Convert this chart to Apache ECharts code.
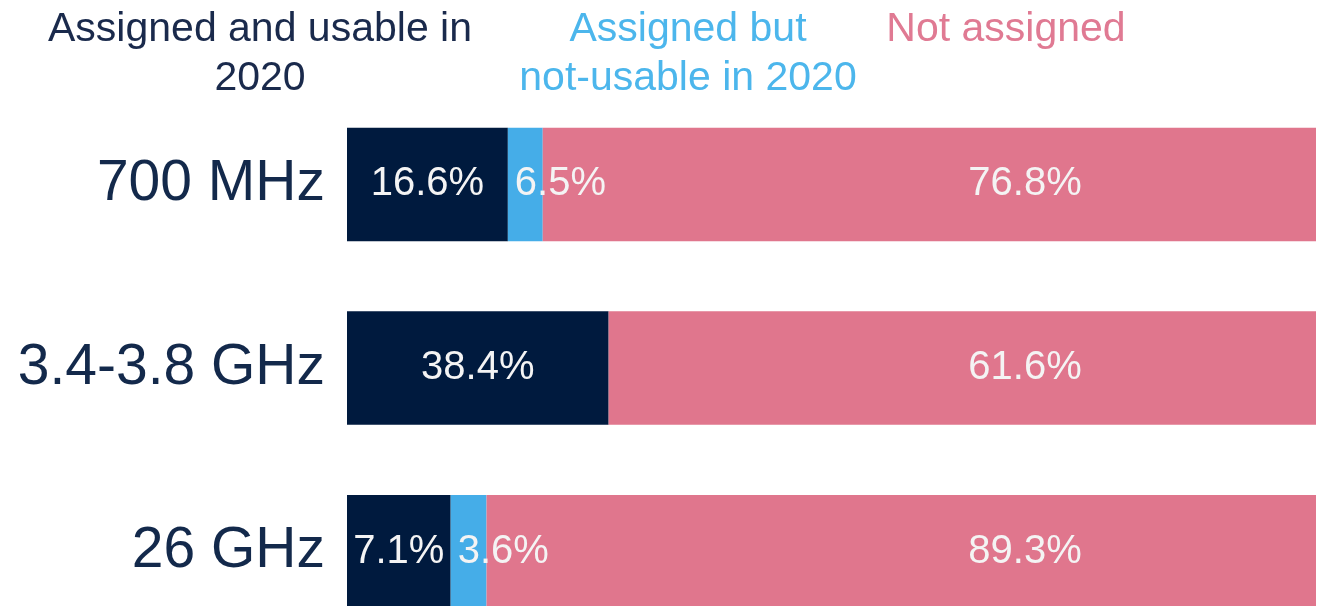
<!DOCTYPE html>
<html>
<head>
<meta charset="utf-8">
<script src="https://cdn.jsdelivr.net/npm/echarts@6/dist/echarts.min.js"></script>
<style>
html,body{margin:0;padding:0;background:#fff;}
#chart{width:1317px;height:606px;}
</style>
</head>
<body>
<div id="chart"></div>
<script>
// Categories (top to bottom)
const categories = ['700 MHz', '3.4-3.8 GHz', '26 GHz'];
// Bar lengths as drawn in the picture (% of the full bar)
const usableValues = [16.6, 27.0, 10.7];
const notUsableValues = [3.6, 0, 3.7];
const notAssignedValues = [79.8, 73.0, 85.6];
// Label texts printed on the bars
const usableLabels = ['16.6%', '38.4%', '7.1%'];
const notUsableLabels = ['6.5%', '', '3.6%'];
const notAssignedLabels = ['76.8%', '61.6%', '89.3%'];
// Legend texts
const seriesNames = ['Assigned and usable in\n2020', 'Assigned but\nnot-usable in 2020', 'Not assigned'];

const NAVY = '#001a3e';
const BLUE = '#45ade8';
const PINK = '#e0768d';
const FONT = '"Liberation Sans", Arial, sans-serif';

const chart = echarts.init(document.getElementById('chart'), null, {renderer: 'canvas'});

const labelBase = {
  show: true,
  color: '#f4f4f4',
  fontFamily: FONT,
  fontSize: 40
};

const option = {
  animation: false,
  backgroundColor: '#ffffff',
  grid: {left: 347, right: 1, top: 92.6, height: 551, containLabel: false, outerBoundsMode: 'none'},
  xAxis: {type: 'value', min: 0, max: 100, show: false},
  yAxis: {
    type: 'category',
    data: categories,
    inverse: true,
    axisLine: {show: false},
    axisTick: {show: false},
    splitLine: {show: false},
    axisLabel: {
      color: '#13294b',
      fontFamily: FONT,
      fontSize: 57,
      margin: 22
    }
  },
  series: [
    {
      name: 'usable', type: 'bar', stack: 'total', barCategoryGap: '38.2%',
      data: usableValues,
      itemStyle: {color: NAVY},
      label: Object.assign({}, labelBase, {
        position: 'inside',
        formatter: p => usableLabels[p.dataIndex]
      })
    },
    {
      name: 'notUsable', type: 'bar', stack: 'total', barCategoryGap: '38.2%',
      data: notUsableValues,
      itemStyle: {color: BLUE},
      label: Object.assign({}, labelBase, {
        position: 'insideLeft',
        distance: 7,
        formatter: p => notUsableLabels[p.dataIndex]
      })
    },
    {
      name: 'notAssigned', type: 'bar', stack: 'total', barCategoryGap: '38.2%',
      data: notAssignedValues,
      itemStyle: {color: PINK},
      label: Object.assign({}, labelBase, {
        position: 'insideRight',
        distance: 291,
        align: 'center',
        formatter: p => notAssignedLabels[p.dataIndex]
      })
    }
  ],
  graphic: [
    {type: 'text', silent: true,
      style: {x: 260, y: 5, text: seriesNames[0], fill: '#1a2a4c', font: '41px ' + FONT, textAlign: 'center', textVerticalAlign: 'top', lineHeight: 49}},
    {type: 'text', silent: true,
      style: {x: 688, y: 5, text: seriesNames[1], fill: '#4cb6ec', font: '41px ' + FONT, textAlign: 'center', textVerticalAlign: 'top', lineHeight: 49}},
    {type: 'text', silent: true,
      style: {x: 1006, y: 5, text: seriesNames[2], fill: '#e07a93', font: '41px ' + FONT, textAlign: 'center', textVerticalAlign: 'top', lineHeight: 49}}
  ]
};

chart.setOption(option);
</script>
</body>
</html>
